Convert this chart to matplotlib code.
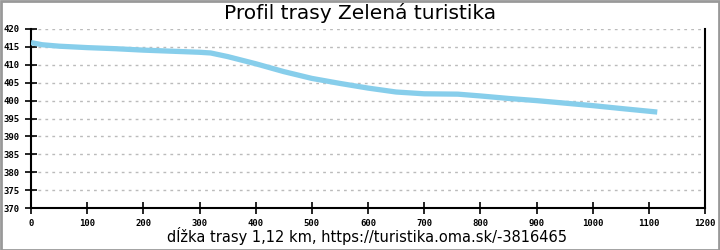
import matplotlib
matplotlib.use("Agg")
import matplotlib.pyplot as plt
import matplotlib.patches as mpatches

# elevation profile
distance_m = [0, 20, 50, 100, 150, 200, 250, 300, 320, 350, 400, 450, 500,
              550, 600, 650, 700, 760, 800, 850, 900, 950, 1000, 1050, 1115]
elevation_m = [416.2, 415.6, 415.2, 414.8, 414.5, 414.1, 413.8, 413.5, 413.3,
               412.3, 410.3, 408.1, 406.2, 404.8, 403.5, 402.4, 401.9, 401.8,
               401.3, 400.6, 400.0, 399.3, 398.6, 397.8, 396.8]

x_ticks = list(range(0, 1201, 100))
y_ticks = list(range(370, 421, 5))
title = "Profil trasy Zelená turistika"
footer = "dĺžka trasy 1,12 km, https://turistika.oma.sk/-3816465"

fig = plt.figure(figsize=(7.2, 2.5), dpi=100)
ax = fig.add_axes([31 / 720, 1 - 208 / 250, 674 / 720, 179 / 250])

ax.plot(distance_m, elevation_m, color="#87ceeb", linewidth=3.8,
        solid_capstyle="butt", zorder=3)

ax.set_xlim(0, 1200)
ax.set_ylim(370, 420)
ax.set_xticks(x_ticks)
ax.set_yticks(y_ticks)
ax.tick_params(direction="inout", length=8, width=1.2, labelsize=6.5,
               pad=4, colors="black")
for lbl in ax.get_xticklabels() + ax.get_yticklabels():
    lbl.set_family("DejaVu Sans Mono")
    lbl.set_fontweight("bold")

for y in y_ticks[1:]:
    ax.axhline(y, color="#bbbbbb", linestyle=(0, (2, 3)), linewidth=1, zorder=1)

for side in ["left", "bottom", "right"]:
    ax.spines[side].set_linewidth(1.5)
ax.spines["top"].set_visible(False)

fig.text(0.5, 0.948, title, ha="center", va="center", fontsize=14.5)
fig.text(0.51, 0.055, footer, ha="center", va="center", fontsize=10.5)

# gray frame around the whole picture
fig.patches.append(mpatches.Rectangle((0.001, 0.002), 0.997, 0.995,
                                      transform=fig.transFigure, fill=False,
                                      edgecolor="#999999", linewidth=2))

fig.savefig("out.png", dpi=100)
